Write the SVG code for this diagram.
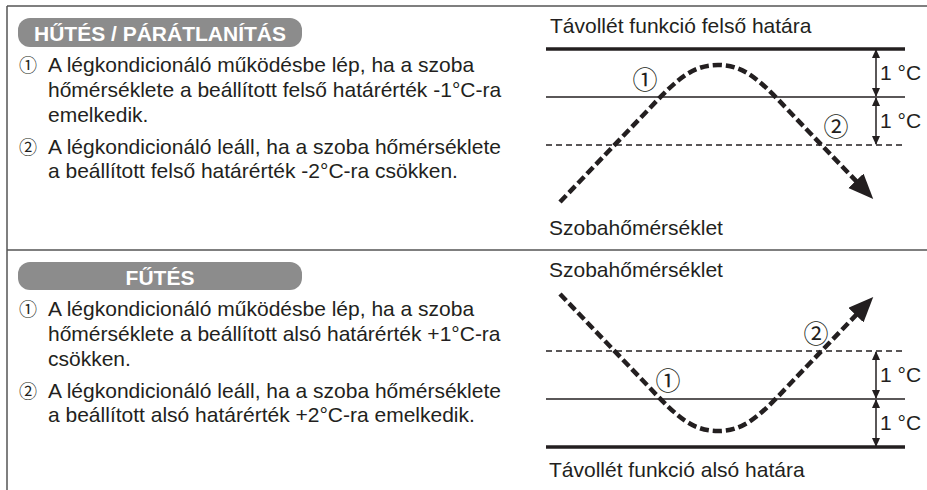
<svg xmlns="http://www.w3.org/2000/svg" width="927" height="490" viewBox="0 0 927 490">
<style>
text{font-family:"Liberation Sans",Arial,sans-serif;fill:#231f20}
.t{font-size:21px}
.c{font-family:"Noto Sans CJK JP","DejaVu Sans",sans-serif;font-size:18px}
.cc{font-family:"Noto Sans CJK JP","DejaVu Sans",sans-serif;font-size:25px;text-anchor:middle}
.pill{fill:#8c8c8c}
.ph{font-size:21px;font-weight:bold;fill:#fff;text-anchor:middle}
.frame{stroke:#555;stroke-width:1.5;fill:none}
.thick{stroke:#231f20;stroke-width:3.5}
.thin{stroke:#231f20;stroke-width:1.4}
.dash{stroke:#231f20;stroke-width:1.4;stroke-dasharray:6 4}
.curve{fill:none;stroke:#231f20;stroke-width:4.5;stroke-dasharray:9 4}
.dim{stroke:#231f20;stroke-width:1.5}
</style>
<defs>
<marker id="big" markerUnits="userSpaceOnUse" markerWidth="28" markerHeight="22" refX="3" refY="10.5" orient="auto" viewBox="0 0 28 22">
<path d="M0,0 L25,10.5 L0,21 z" fill="#231f20"/>
</marker>
<marker id="sm" markerUnits="userSpaceOnUse" markerWidth="10" markerHeight="8" refX="8" refY="4" orient="auto-start-reverse" viewBox="0 0 10 8">
<path d="M0,0 L9,4 L0,8 z" fill="#231f20"/>
</marker>
</defs>

<g id="frame">
<line class="frame" x1="7" y1="6" x2="927" y2="6"/>
<line class="frame" x1="7" y1="6" x2="7" y2="490"/>
<line class="frame" x1="7" y1="250" x2="927" y2="250"/>
</g>

<g id="cooling-text">
<rect class="pill" x="18" y="18" width="284" height="29" rx="12"/>
<text class="ph" x="160" y="41">HŰTÉS / PÁRÁTLANÍTÁS</text>
<text class="t" x="19" y="72"><tspan class="c">①</tspan><tspan x="48">A légkondicionáló működésbe lép, ha a szoba</tspan></text>
<text class="t" x="48" y="97">hőmérséklete a beállított felső határérték -1°C-ra</text>
<text class="t" x="48" y="122">emelkedik.</text>
<text class="t" x="19" y="154"><tspan class="c">②</tspan><tspan x="48">A légkondicionáló leáll, ha a szoba hőmérséklete</tspan></text>
<text class="t" x="48" y="178">a beállított felső határérték -2°C-ra csökken.</text>
</g>

<g id="heating-text">
<rect class="pill" x="18" y="262" width="284" height="28" rx="12"/>
<text class="ph" x="160" y="285">FŰTÉS</text>
<text class="t" x="19" y="316"><tspan class="c">①</tspan><tspan x="48">A légkondicionáló működésbe lép, ha a szoba</tspan></text>
<text class="t" x="48" y="341">hőmérséklete a beállított alsó határérték +1°C-ra</text>
<text class="t" x="48" y="366">csökken.</text>
<text class="t" x="19" y="398"><tspan class="c">②</tspan><tspan x="48">A légkondicionáló leáll, ha a szoba hőmérséklete</tspan></text>
<text class="t" x="48" y="422">a beállított alsó határérték +2°C-ra emelkedik.</text>
</g>

<g id="cooling-chart">
<text class="t" x="550" y="33">Távollét funkció felső határa</text>
<line class="thick" x1="546" y1="49" x2="905" y2="49"/>
<line class="thin" x1="546" y1="97" x2="905" y2="97"/>
<line class="dash" x1="546" y1="145" x2="905" y2="145"/>
<line class="dim" x1="876" y1="50" x2="876" y2="96" marker-start="url(#sm)" marker-end="url(#sm)"/>
<line class="dim" x1="876" y1="98" x2="876" y2="144" marker-start="url(#sm)" marker-end="url(#sm)"/>
<text class="t" x="880" y="80">1 °C</text>
<text class="t" x="880" y="128">1 °C</text>
<path class="curve" d="M560,202 L648,110 C678,78 693,65 718,65 C743,65 758,78 788,110 L858,183" marker-end="url(#big)"/>
<text class="cc" x="645" y="89">①</text>
<text class="cc" x="836" y="136">②</text>
<text class="t" x="549" y="235">Szobahőmérséklet</text>
</g>

<g id="heating-chart">
<text class="t" x="549" y="277">Szobahőmérséklet</text>
<line class="dash" x1="546" y1="351" x2="905" y2="351"/>
<line class="thin" x1="546" y1="399" x2="905" y2="399"/>
<line class="thick" x1="546" y1="447" x2="905" y2="447"/>
<line class="dim" x1="876" y1="352" x2="876" y2="398" marker-start="url(#sm)" marker-end="url(#sm)"/>
<line class="dim" x1="876" y1="400" x2="876" y2="446" marker-start="url(#sm)" marker-end="url(#sm)"/>
<text class="t" x="880" y="382">1 °C</text>
<text class="t" x="880" y="430">1 °C</text>
<path class="curve" d="M560,294 L648,386 C678,418 693,431 718,431 C743,431 758,418 788,386 L858,313" marker-end="url(#big)"/>
<text class="cc" x="668" y="390">①</text>
<text class="cc" x="816" y="343">②</text>
<text class="t" x="549" y="477">Távollét funkció alsó határa</text>
</g>
</svg>
